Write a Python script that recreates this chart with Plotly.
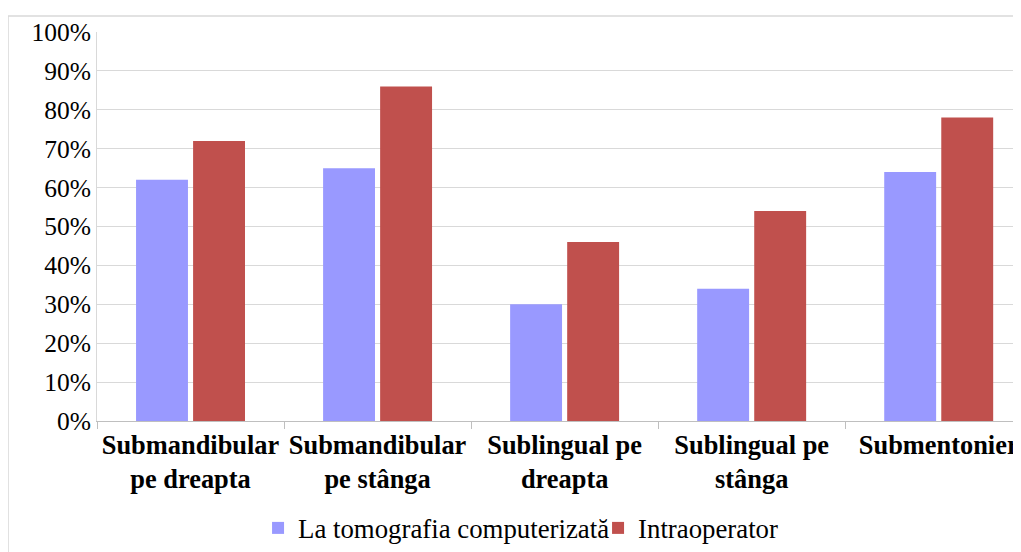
import plotly.graph_objects as go

# date
categorii = ["Submandibular<br>pe dreapta", "Submandibular<br>pe stânga",
             "Sublingual pe<br>dreapta", "Sublingual pe<br>stânga", "Submentonier"]
tomografie = [0.62, 0.65, 0.30, 0.34, 0.64]
intraoperator = [0.72, 0.86, 0.46, 0.54, 0.78]

font_serif = "Liberation Serif"
f_y = {"family": font_serif, "size": 25.5, "color": "black"}
f_leg = {"family": font_serif, "size": 26.8, "color": "black"}
f_bold = {"family": font_serif, "size": 26.4, "color": "black", "weight": "bold"}

fig = go.Figure()
fig.add_trace(go.Bar(x=categorii, y=tomografie, name="La tomografia computerizată",
                     marker={"color": "#9999FF", "line": {"width": 0}}))
fig.add_trace(go.Bar(x=categorii, y=intraoperator, name="Intraoperator",
                     marker={"color": "#C0504D", "line": {"width": 0}}))

fig.update_layout(
    template="none",
    width=1013, height=544,
    margin={"l": 89, "r": 0, "t": 24, "b": 129},
    paper_bgcolor="white", plot_bgcolor="white",
    font=f_y,
    barmode="group", bargap=0.39, bargroupgap=0.09,
    showlegend=True,
    legend={"orientation": "h", "x": 0.1743, "xanchor": "left", "y": -0.275, "yanchor": "middle",
            "font": f_leg, "itemwidth": 30, "entrywidth": 295},
    xaxis={"range": [-0.5, 4.44], "showgrid": False, "showline": True, "linecolor": "#bfbfbf",
           "ticks": "outside", "tickson": "boundaries", "ticklen": 7, "tickcolor": "#bfbfbf",
           "tickangle": 0, "tickfont": f_bold},
    yaxis={"range": [0, 1], "dtick": 0.1, "tickformat": ".0%", "showgrid": True,
           "gridcolor": "#d9d9d9", "showline": True, "linecolor": "#d9d9d9",
           "ticks": "", "zeroline": False, "tickfont": f_y},
    shapes=[{"type": "rect", "xref": "paper", "yref": "paper",
             "x0": -0.0963, "x1": 1.05, "y0": -0.5, "y1": 1.041,
             "line": {"color": "#d9d9d9", "width": 1.5}, "fillcolor": "rgba(0,0,0,0)"}],
)

fig.write_html("out.html")
